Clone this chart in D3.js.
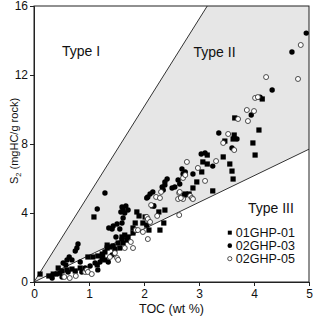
<!DOCTYPE html>
<html>
<head>
<meta charset="utf-8">
<script src="https://cdn.jsdelivr.net/npm/d3@7"></script>
<style>
  body { margin: 0; background: #fff; }
  svg { display: block; font-family: Arial, "Liberation Sans", sans-serif; }
</style>
</head>
<body>
<div id="chart"></div>
<script>
// kerogen type boundaries (TOC, S2)
const typeIBoundary = [[0, 0], [3.15, 16]];
const typeIIIBoundary = [[0, 0], [5, 7.7]];

const xTicks = [0, 1, 2, 3, 4, 5];
const yTicks = [0, 4, 8, 12, 16];

// 01GHP-01 (squares)
const ghp01 = [
  [0.11, 0.46], [0.27, 0.35], [0.35, 0.46], [0.44, 0.81], [0.51, 0.64], [0.60, 0.70],
  [0.69, 0.75], [0.75, 0.64], [0.84, 0.81], [0.98, 1.45], [1.07, 1.45], [1.15, 0.99],
  [1.16, 1.51], [1.24, 1.62], [1.29, 1.74], [1.09, 3.77], [1.24, 1.33], [1.29, 1.28],
  [1.25, 1.57], [1.33, 2.14], [1.33, 1.97], [1.38, 2.03], [1.44, 2.09], [1.47, 1.91],
  [1.53, 2.26], [1.56, 1.97], [1.60, 2.61], [1.62, 2.26], [1.65, 2.72], [1.69, 2.43],
  [1.71, 2.61], [1.80, 2.84], [1.80, 3.13], [1.84, 3.42], [1.87, 4.06], [1.91, 3.83],
  [1.98, 3.42], [2.02, 3.77], [2.05, 3.30], [2.09, 3.01], [2.16, 4.41], [2.27, 4.06],
  [2.29, 3.01], [2.36, 3.42], [2.38, 4.17], [2.73, 5.04], [2.75, 5.10], [2.82, 5.10],
  [2.89, 5.45], [2.96, 5.80], [3.05, 6.38], [3.07, 6.96], [3.15, 6.84], [3.15, 7.36],
  [3.25, 5.28], [3.44, 7.25], [3.56, 6.84], [3.60, 6.43], [3.62, 5.97], [3.62, 8.29],
  [3.64, 8.52], [3.65, 9.51], [3.98, 8.06], [4.02, 7.36], [4.09, 8.81], [4.15, 10.61],
  [3.47, 8.17]
];

// 02GHP-03 (filled circles)
const ghp03 = [
  [0.42, 0.46], [0.47, 0.52], [0.51, 0.29], [0.58, 0.99], [0.53, 1.10], [0.60, 1.28],
  [0.64, 1.45], [0.69, 1.28], [0.75, 1.80], [0.78, 1.97], [0.80, 2.20], [1.15, 4.23],
  [1.29, 5.16], [1.36, 3.13], [1.44, 3.25], [1.42, 3.07], [1.49, 2.61], [1.51, 3.36],
  [1.56, 3.07], [1.58, 4.06], [1.60, 4.35], [1.60, 3.42], [1.62, 4.17], [1.62, 3.71],
  [1.65, 4.00], [1.67, 4.41], [1.60, 2.49], [1.71, 4.17], [0.93, 0.81], [1.02, 0.93],
  [1.11, 1.10], [1.20, 1.16], [0.84, 1.16], [2.05, 4.87], [2.11, 5.10], [2.16, 5.22],
  [2.07, 4.93], [2.18, 4.41], [2.33, 5.51], [2.38, 5.62], [2.35, 5.33], [2.42, 5.97],
  [2.38, 5.80], [2.51, 5.45], [2.56, 5.51], [2.62, 5.91], [2.65, 5.68], [2.69, 6.55],
  [2.75, 6.38], [2.71, 6.26], [2.89, 6.26], [3.04, 7.42], [3.11, 7.48], [3.25, 6.72],
  [3.36, 8.64], [3.60, 7.77], [3.69, 8.29], [3.95, 9.68], [4.11, 10.72], [4.33, 11.13],
  [4.69, 13.33], [4.95, 14.43], [0.33, 0.23], [0.62, 0.58], [0.87, 0.58], [1.16, 0.70],
  [1.35, 1.16], [1.42, 1.57]
];

// 02GHP-05 (open circles)
const ghp05 = [
  [0.55, 0.29], [0.65, 0.23], [0.76, 0.35], [0.93, 0.58], [0.96, 0.70], [0.98, 0.58],
  [1.05, 0.46], [1.38, 1.45], [1.47, 1.68], [1.51, 1.39], [1.53, 1.28], [1.65, 1.97],
  [1.76, 2.32], [1.80, 1.97], [1.85, 3.01], [1.89, 3.01], [1.98, 2.90], [2.05, 3.77],
  [2.07, 3.65], [2.11, 3.48], [2.07, 2.49], [2.13, 4.46], [2.22, 4.93], [2.24, 3.83],
  [2.29, 4.87], [2.31, 5.22], [2.62, 4.81], [2.64, 5.16], [2.64, 3.88], [2.65, 5.22],
  [2.71, 4.81], [2.67, 4.87], [2.71, 6.03], [2.75, 6.20], [2.78, 6.96], [2.84, 4.99],
  [2.87, 4.87], [2.89, 4.81], [2.98, 6.61], [3.11, 5.86], [3.31, 7.01], [3.44, 8.06],
  [3.53, 8.58], [3.64, 7.65], [3.71, 9.45], [3.87, 9.97], [3.89, 9.33], [4.00, 9.91],
  [4.02, 10.67], [4.07, 10.72], [4.22, 11.88], [4.80, 11.77], [4.85, 13.74]
];

const seriesNames = ['01GHP-01', '02GHP-03', '02GHP-05'];
const typeLabels = [
  {text: 'Type I', x: 0.51, y: 13.1},
  {text: 'Type II', x: 2.9, y: 13.05},
  {text: 'Type III', x: 3.89, y: 4.0}
];

const margin = {top: 6, right: 5, bottom: 34, left: 34};
const width = 314 - margin.left - margin.right;
const height = 316 - margin.top - margin.bottom;

const svg = d3.select('#chart').append('svg')
  .attr('width', 314)
  .attr('height', 316)
  .append('g')
  .attr('transform', `translate(${margin.left},${margin.top})`);

const x = d3.scaleLinear().domain([0, 5]).range([0, width]);
const y = d3.scaleLinear().domain([0, 16]).range([height, 0]);

// Type II field (grey) between the two boundaries
const area = [typeIBoundary[0], typeIBoundary[1], [5, 16], typeIIIBoundary[1]];
svg.append('path')
  .attr('d', d3.line().x(d => x(d[0])).y(d => y(d[1]))(area) + 'Z')
  .attr('fill', '#e6e6e6');

const line = d3.line().x(d => x(d[0])).y(d => y(d[1]));
[typeIBoundary, typeIIIBoundary].forEach(b => {
  svg.append('path')
    .attr('d', line(b))
    .attr('fill', 'none')
    .attr('stroke', '#333')
    .attr('stroke-width', 1);
});

// frame
svg.append('rect')
  .attr('width', width)
  .attr('height', height)
  .attr('fill', 'none')
  .attr('stroke', '#222')
  .attr('stroke-width', 1);

// axes
const xAxis = svg.append('g')
  .attr('transform', `translate(0,${height})`)
  .call(d3.axisBottom(x).tickValues(xTicks).tickFormat(d3.format('d')).tickSize(4).tickPadding(3));
const yAxis = svg.append('g')
  .call(d3.axisLeft(y).tickValues(yTicks).tickFormat(d3.format('d')).tickSize(4).tickPadding(2));
[xAxis, yAxis].forEach(a => {
  a.select('.domain').attr('stroke', '#222');
  a.selectAll('line').attr('stroke', '#222');
  a.selectAll('text').attr('font-size', 12).attr('fill', '#111')
    .attr('font-family', 'Arial, "Liberation Sans", sans-serif');
});

svg.append('text')
  .attr('x', width / 2)
  .attr('y', height + 31)
  .attr('text-anchor', 'middle')
  .attr('font-size', 12.5)
  .attr('fill', '#111')
  .text('TOC (wt %)');

const ylab = svg.append('text')
  .attr('transform', `translate(${-16},${y(8) - 3}) rotate(-90)`)
  .attr('text-anchor', 'middle')
  .attr('font-size', 11)
  .attr('fill', '#111');
ylab.append('tspan').text('S');
ylab.append('tspan').attr('font-size', 7.5).attr('dy', 3).text('2');
ylab.append('tspan').attr('dy', -3).text(' (mgHC/g rock)');

// type labels
svg.selectAll('.type-label')
  .data(typeLabels)
  .enter().append('text')
  .attr('class', 'type-label')
  .attr('x', d => x(d.x))
  .attr('y', d => y(d.y))
  .attr('font-size', 14)
  .attr('fill', '#111')
  .text(d => d.text);

// points
svg.append('g').selectAll('rect')
  .data(ghp01)
  .enter().append('rect')
  .attr('x', d => x(d[0]) - 2.6)
  .attr('y', d => y(d[1]) - 2.6)
  .attr('width', 5.2)
  .attr('height', 5.2)
  .attr('fill', '#000');

svg.append('g').selectAll('circle')
  .data(ghp03)
  .enter().append('circle')
  .attr('cx', d => x(d[0]))
  .attr('cy', d => y(d[1]))
  .attr('r', 2.7)
  .attr('fill', '#000');

svg.append('g').selectAll('circle')
  .data(ghp05)
  .enter().append('circle')
  .attr('cx', d => x(d[0]))
  .attr('cy', d => y(d[1]))
  .attr('r', 2.5)
  .attr('fill', '#fff')
  .attr('stroke', '#222')
  .attr('stroke-width', 0.8);

// legend
const legend = svg.append('g')
  .attr('transform', `translate(${x(3.56)},${y(2.86)})`);
const legendItems = legend.selectAll('.legend-item')
  .data(seriesNames)
  .enter().append('g')
  .attr('class', 'legend-item')
  .attr('transform', (d, i) => `translate(0, ${i * 13})`);

legendItems.each(function (d, i) {
  const g = d3.select(this);
  if (i === 0) {
    g.append('rect').attr('x', -2).attr('y', -2).attr('width', 4).attr('height', 4).attr('fill', '#000');
  } else if (i === 1) {
    g.append('circle').attr('r', 2.3).attr('fill', '#000');
  } else {
    g.append('circle').attr('r', 2.1).attr('fill', '#fff').attr('stroke', '#222').attr('stroke-width', 0.8);
  }
});

legendItems.append('text')
  .attr('x', 6)
  .attr('y', 4.5)
  .attr('font-size', 12.5)
  .attr('fill', '#111')
  .text(d => d);
</script>
</body>
</html>
